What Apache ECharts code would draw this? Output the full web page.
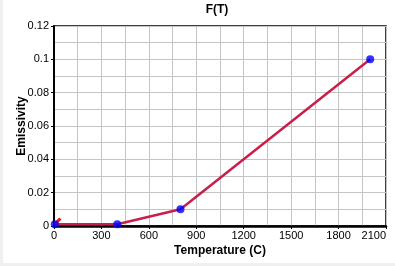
<!DOCTYPE html>
<html><head><meta charset="utf-8">
<script src="https://cdn.jsdelivr.net/npm/echarts@6/dist/echarts.min.js"></script>
<style>
html,body{margin:0;padding:0;background:#f0f0f0;}
#c{position:absolute;left:3px;top:0;width:392px;height:263px;background:#fff;}
</style></head>
<body><div id="c"></div>
<script>
const title = 'F(T)';
const xName = 'Temperature (C)';
const yName = 'Emissivity';
const lineData = [[5, 0.001], [400, 0.001], [800, 0.01], [2000, 0.1]];
const startSegment = [[5, 0.001], [40, 0.0045]];
const pointData = [[5, 0.001], [400, 0.001], [800, 0.01], [2000, 0.1]];
const xMin = 0, xMax = 2100, xStep = 300;
const yMin = 0, yMax = 0.12, yStep = 0.02;

const chart = echarts.init(document.getElementById('c'));
const font = 'Liberation Sans, Arial, sans-serif';
chart.setOption({
  animation: false,
  title: {text: title, left: 209, top: -1, textAlign: 'center',
    textStyle: {fontFamily: font, fontSize: 12, fontWeight: 'bold', color: '#000'}},
  grid: {left: 51, right: 9, top: 26, bottom: 37, show: true, borderColor: '#000', borderWidth: 1.5,
    containLabel: false, outerBoundsMode: 'none'},
  xAxis: {type: 'value', min: xMin, max: xMax, interval: xStep,
    name: xName, nameLocation: 'middle', nameGap: 19, nameMoveOverlap: false,
    nameTextStyle: {fontFamily: font, fontSize: 12, fontWeight: 'bold', color: '#000'},
    axisLine: {lineStyle: {color: '#000', width: 2.5}},
    axisTick: {show: true, length: 3, lineStyle: {color: '#000'}},
    axisLabel: {fontFamily: font, fontSize: 11, color: '#000', margin: 4, alignMaxLabel: 'right',
      formatter: v => String(v)},
    splitLine: {show: true, lineStyle: {color: '#c4c4c4', width: 1}},
    minorTick: {show: false, splitNumber: 2},
    minorSplitLine: {show: true, lineStyle: {color: '#c4c4c4', width: 1}}
  },
  yAxis: {type: 'value', min: yMin, max: yMax, interval: yStep,
    name: yName, nameLocation: 'middle', nameGap: 26, nameMoveOverlap: false,
    nameTextStyle: {fontFamily: font, fontSize: 12, fontWeight: 'bold', color: '#000'},
    axisLine: {show: true, lineStyle: {color: '#000', width: 2}},
    axisTick: {show: true, length: 3, lineStyle: {color: '#000'}},
    axisLabel: {fontFamily: font, fontSize: 11, color: '#000', margin: 5,
      formatter: v => String(+v.toFixed(4))},
    splitLine: {show: true, lineStyle: {color: '#c4c4c4', width: 1}},
    minorTick: {show: false, splitNumber: 2},
    minorSplitLine: {show: true, lineStyle: {color: '#c4c4c4', width: 1}}
  },
  series: [
    {type: 'line', data: lineData, symbol: 'none', lineStyle: {color: '#c8204a', width: 2.5}, z: 3},
    {type: 'line', data: startSegment, symbol: 'none', lineStyle: {color: '#ee1111', width: 3}, z: 3},
    {type: 'scatter', data: pointData, symbol: 'circle', symbolSize: 8,
      itemStyle: {color: '#0000ff'}, z: 4}
  ]
});
</script></body></html>
